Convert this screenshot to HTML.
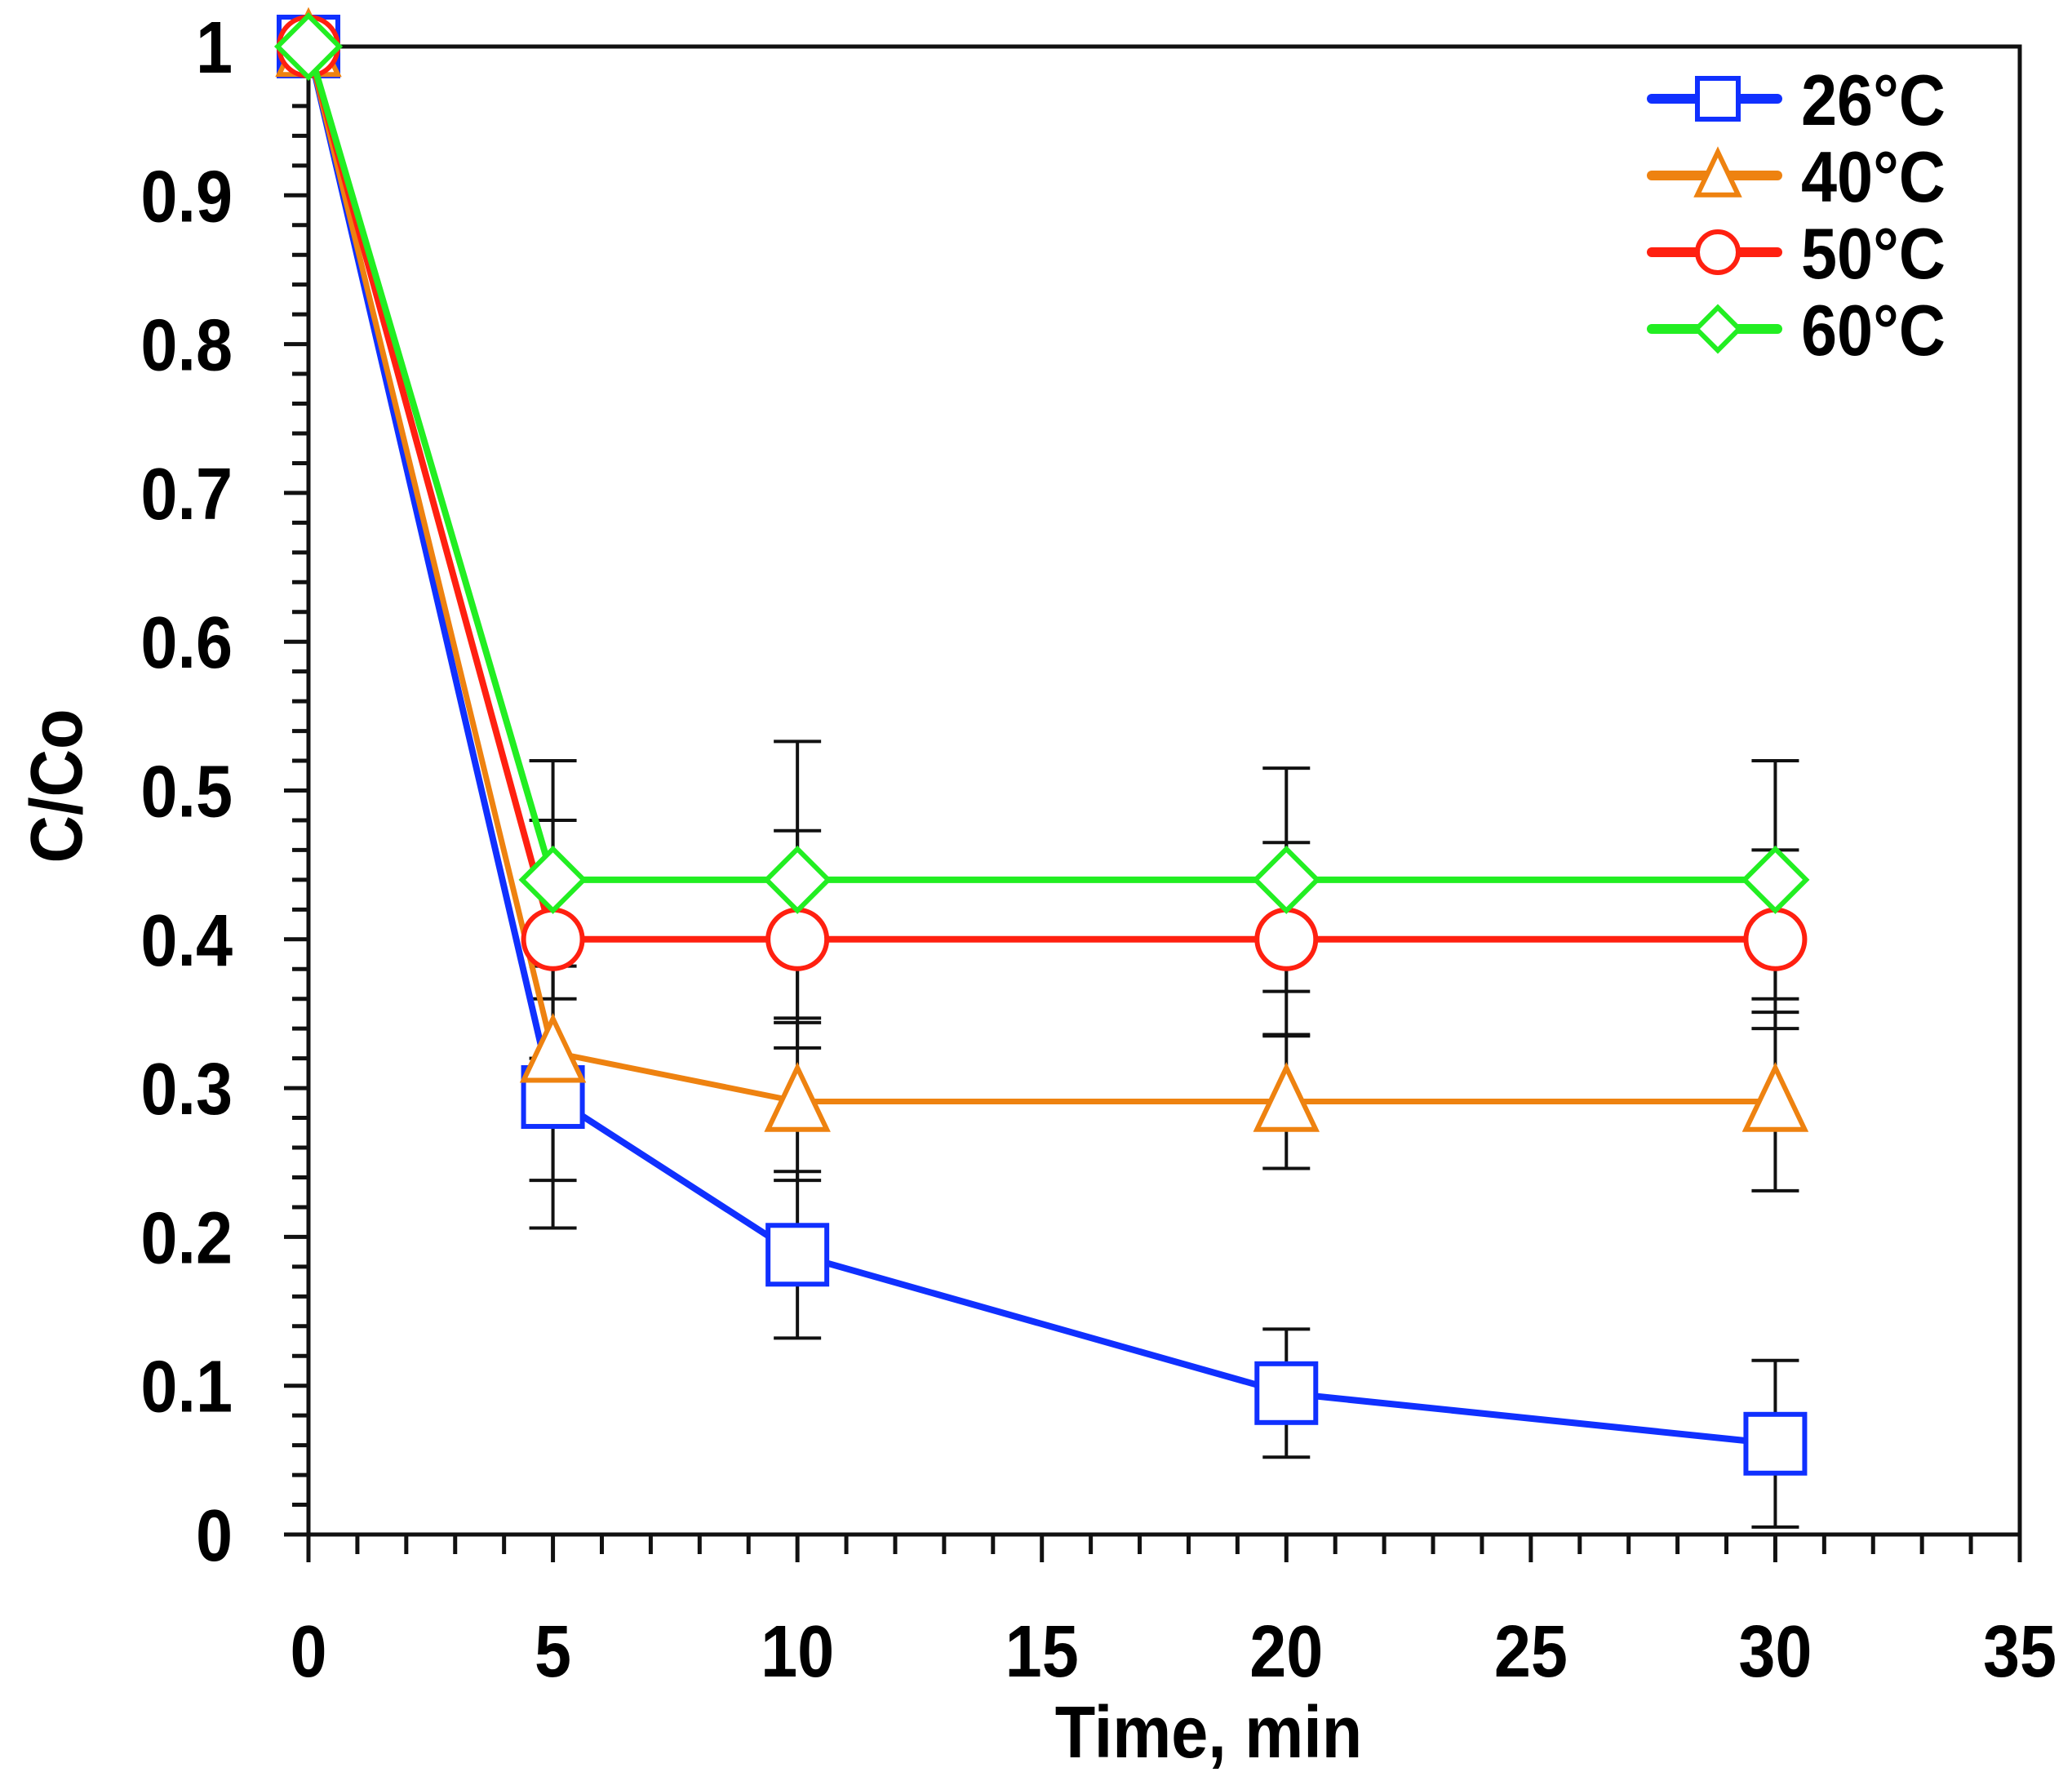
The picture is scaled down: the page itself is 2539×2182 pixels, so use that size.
<!DOCTYPE html>
<html><head><meta charset="utf-8"><style>
html,body{margin:0;padding:0;background:#fff;}
svg{display:block;font-family:"Liberation Sans",sans-serif;font-weight:bold;}
</style></head><body>
<svg id="chart" width="2539" height="2182" viewBox="0 0 2539 2182">
<g id="axes"></g>
<g id="series"></g>
<g id="legend"></g>
<text transform="translate(1481,2153) scale(0.9,1)" font-size="90" text-anchor="middle">Time, min</text>
<text transform="translate(100,963) rotate(-90) scale(0.9,1)" font-size="90" text-anchor="middle">C/Co</text>
</svg>
<script>
const times = [0, 5, 10, 20, 30];
const seriesNames = ["26°C", "40°C", "50°C", "60°C"];
const vals26 = [1, 0.294, 0.188, 0.095, 0.061];
const vals40 = [1, 0.324, 0.291, 0.291, 0.291];
const vals50 = [1, 0.40, 0.40, 0.40, 0.40];
const vals60 = [1, 0.44, 0.44, 0.44, 0.44];
const err26 = [0, 0.088, 0.056, 0.043, 0.056];
const err40 = [0, 0.086, 0.053, 0.045, 0.06];
const err50 = [0, 0.08, 0.073, 0.065, 0.06];
const err60 = [0, 0.08, 0.093, 0.075, 0.08];
const xTicks = [0, 5, 10, 15, 20, 25, 30, 35];
const yTicks = [0, 0.1, 0.2, 0.3, 0.4, 0.5, 0.6, 0.7, 0.8, 0.9, 1];
const yTickLabels = ["0","0.1","0.2","0.3","0.4","0.5","0.6","0.7","0.8","0.9","1"];

const NS = "http://www.w3.org/2000/svg";
const X0 = 378, X1 = 2475, Y0 = 1880, Y1 = 57;
function xs(v){ return X0 + (v/35)*(X1-X0); }
function ys(v){ return Y0 - v*(Y0-Y1); }
function mk(tag, attrs, parent){ const e=document.createElementNS(NS,tag); for(const k in attrs) e.setAttribute(k,attrs[k]); parent.appendChild(e); return e; }

const axes = document.getElementById('axes');
for(let i=0;i<=50;i++){
  const v=i/50, major=(i%5===0);
  const t = mk('line',{x1:X0-(major?30:20),x2:X0,y1:ys(v),y2:ys(v),stroke:'#111','stroke-width':5},axes);
  
  
}
for(let i=0;i<=35;i++){
  const major=(i%5===0);
  const t = mk('line',{x1:xs(i),x2:xs(i),y1:Y0,y2:Y0+(major?34:24),stroke:'#111','stroke-width':5},axes);
  
  
}
const frame = mk('rect',{x:X0,y:Y1,width:X1-X0,height:Y0-Y1,fill:'none',stroke:'#111','stroke-width':5},axes);


yTicks.forEach((v,i)=>{
  const t = mk('text',{transform:`translate(285,${ys(v)+32}) scale(0.9,1)`,'font-size':90,'text-anchor':'end'},axes);
  t.textContent = yTickLabels[i];
  
  
});
xTicks.forEach(v=>{
  const t = mk('text',{transform:`translate(${xs(v)},2054) scale(0.9,1)`,'font-size':90,'text-anchor':'middle'},axes);
  t.textContent = String(v);
  
  
});

const S = document.getElementById('series');
const defs = [
  {vals:vals26, err:err26, color:'#1030ff', lw:8, shape:'square', key:'26c'},
  {vals:vals40, err:err40, color:'#ee8210', lw:7, shape:'triangle', key:'40c'},
  {vals:vals50, err:err50, color:'#ff2010', lw:8, shape:'circle', key:'50c'},
  {vals:vals60, err:err60, color:'#22ee22', lw:8, shape:'diamond', key:'60c'}
];
function marker(shape,cx,cy,color,parent,r){
  let e;
  if(shape==='square') e=mk('rect',{x:cx-r,y:cy-r,width:2*r,height:2*r,fill:'#fff',stroke:color,'stroke-width':6},parent);
  else if(shape==='circle') e=mk('circle',{cx:cx,cy:cy,r:r,fill:'#fff',stroke:color,'stroke-width':6},parent);
  else if(shape==='triangle') e=mk('polygon',{points:`${cx},${cy-r*1.15} ${cx+r},${cy+r*0.95} ${cx-r},${cy+r*0.95}`,fill:'#fff',stroke:color,'stroke-width':6},parent);
  else e=mk('polygon',{points:`${cx},${cy-r*1.05} ${cx+r*1.05},${cy} ${cx},${cy+r*1.05} ${cx-r*1.05},${cy}`,fill:'#fff',stroke:color,'stroke-width':6},parent);
  return e;
}
defs.forEach(d=>{
  const g = mk('g',{},S);
  
  
  times.forEach((t,i)=>{
    if(!d.err[i]) return;
    const x=xs(t), hi=ys(d.vals[i]+d.err[i]), lo=ys(d.vals[i]-d.err[i]);
    const l=mk('line',{x1:x,x2:x,y1:hi,y2:lo,stroke:'#111','stroke-width':4},g);
    
    
    [hi,lo].forEach(y=>{
      const c=mk('line',{x1:x-29,x2:x+29,y1:y,y2:y,stroke:'#111','stroke-width':4},g);
      
      
    });
  });
});
defs.forEach(d=>{
  const g = mk('g',{},S);
  
  
  const pts = times.map((t,i)=>xs(t)+','+ys(d.vals[i])).join(' ');
  const pl = mk('polyline',{points:pts,fill:'none',stroke:d.color,'stroke-width':d.lw,'stroke-linejoin':'round'},g);
  
  
  times.forEach((t,i)=>{
    const m = marker(d.shape,xs(t),ys(d.vals[i]),d.color,g,36);
    
    
  });
});
const L = document.getElementById('legend');
defs.forEach((d,i)=>{
  const y = 121 + i*94;
  const g = mk('g',{},L);
  
  
  mk('line',{x1:2024,x2:2178,y1:y,y2:y,stroke:d.color,'stroke-width':12,'stroke-linecap':'round'},g);
  marker(d.shape,2105,y,d.color,g,25);
  const t = mk('text',{transform:`translate(2207,${y+32}) scale(0.9,1)`,'font-size':88},g);
  t.textContent = seriesNames[i];
  
  
});
</script>
</body></html>
